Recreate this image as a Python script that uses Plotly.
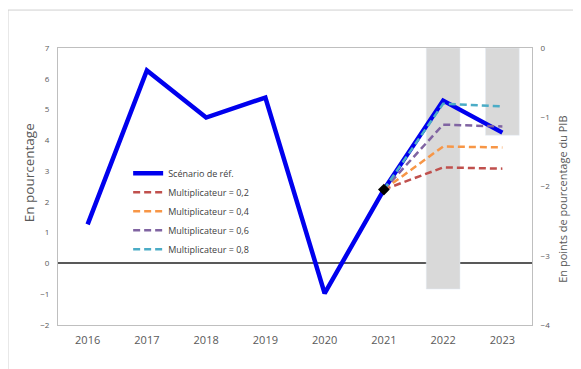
import plotly.graph_objects as go

years = ["2016", "2017", "2018", "2019", "2020", "2021", "2022", "2023"]
reference = [1.27, 6.27, 4.74, 5.39, -0.97, 2.40, 5.29, 4.25]

proj_years = ["2021", "2022", "2023"]
mult_02 = [2.40, 3.12, 3.08]
mult_04 = [2.40, 3.80, 3.77]
mult_06 = [2.40, 4.51, 4.45]
mult_08 = [2.40, 5.19, 5.10]

bar_years = ["2022", "2023"]
bar_values = [-3.48, -1.26]  # en points de pourcentage du PIB (axe droit)

fig = go.Figure()

# bars on the primary (right-hand) axis so that the lines overlay them
fig.add_trace(go.Bar(x=bar_years, y=bar_values, yaxis="y", marker_color="#d9d9d9",
                     width=0.57, showlegend=False, hoverinfo="skip"))

fig.add_trace(go.Scatter(x=years, y=reference, mode="lines", name="Scénario de réf.", yaxis="y2",
                         line=dict(color="#0000ee", width=4.5)))

series = [
    ("Multiplicateur = 0,2", mult_02, "#c0504d"),
    ("Multiplicateur = 0,4", mult_04, "#f79646"),
    ("Multiplicateur = 0,6", mult_06, "#8064a2"),
    ("Multiplicateur = 0,8", mult_08, "#4bacc6"),
]
for name, vals, col in series:
    fig.add_trace(go.Scatter(x=proj_years, y=vals, mode="lines", name=name, yaxis="y2",
                             line=dict(color=col, width=2.5, dash="7px,4px")))

fig.add_trace(go.Scatter(x=[proj_years[0]], y=[mult_02[0]], mode="markers", showlegend=False,
                         yaxis="y2", marker=dict(symbol="diamond", color="black", size=9)))

fig.update_layout(
    width=581, height=369,
    margin=dict(l=50, r=57, t=40, b=52),
    paper_bgcolor="white", plot_bgcolor="white",
    font=dict(family="Open Sans, sans-serif", color="#595959"),
    barmode="overlay",
    xaxis=dict(type="category", categoryorder="array", categoryarray=years,
               range=[-0.5, 7.5], showgrid=False, showline=True, mirror=True,
               linecolor="#bfbfbf", linewidth=1, tickfont=dict(size=11),
               ticks="outside", ticklen=5, tickcolor="white", zeroline=False),
    yaxis=dict(range=[-4, 0], dtick=1, side="right", showgrid=False,
               zeroline=False, showline=True, mirror=True, linecolor="#bfbfbf",
               tickfont=dict(size=8), ticks="outside", ticklen=6, tickcolor="white"),
    yaxis2=dict(range=[-2, 7], dtick=1, overlaying="y", side="left", showgrid=False,
                zeroline=True, zerolinecolor="#595959", zerolinewidth=2, showline=False,
                tickfont=dict(size=8), ticks="outside", ticklen=6, tickcolor="white"),
    legend=dict(x=0.148, y=0.6, xanchor="left", yanchor="top", bgcolor="rgba(0,0,0,0)",
                font=dict(size=9, color="#404040"), tracegroupgap=0),
    shapes=[dict(type="rect", xref="paper", yref="paper", x0=-0.1055, x1=1.3, y0=-0.4, y1=1.137,
                 line=dict(color="#d0d0d0", width=1), fillcolor="rgba(0,0,0,0)", layer="below")],
    annotations=[
        dict(text="En pourcentage", xref="paper", yref="paper", x=-0.062, y=0.55,
             xanchor="center", yanchor="middle",
             textangle=-90, showarrow=False, font=dict(size=13.5, color="#595959")),
        dict(text="En points de pourcentage du PIB", xref="paper", yref="paper", x=1.065, y=0.455,
             xanchor="center", yanchor="middle",
             textangle=-90, showarrow=False, font=dict(size=11, color="#595959")),
    ],
)

fig.write_html("out.html")
